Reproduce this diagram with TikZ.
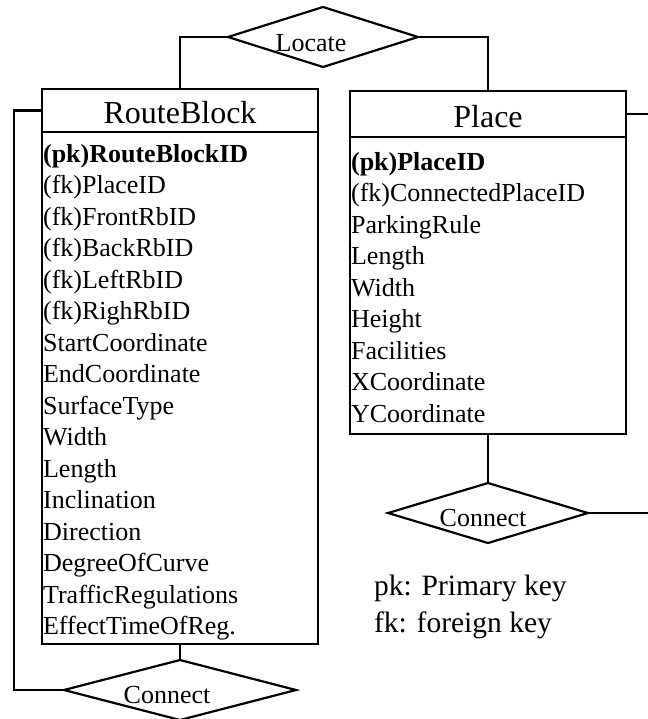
\documentclass[tikz,border=0pt]{standalone}
\usepackage{fontspec}
\setmainfont{Liberation Serif}
\usetikzlibrary{shapes.geometric}
\begin{document}
\begin{tikzpicture}[x=1bp,y=-1bp,
  line width=2.2bp,
  entbox/.style={draw, rectangle, inner sep=0pt, outer sep=0pt},
  hdr/.style={entbox, font=\fontsize{32bp}{38bp}\selectfont, text height=27bp, text depth=0pt},
  attr/.style={anchor=base west, inner sep=0pt, font=\fontsize{26bp}{31.5bp}\selectfont},
  key/.style={attr, font=\fontsize{26bp}{31.5bp}\selectfont\bfseries},
  rel/.style={draw, diamond, inner sep=0pt, outer sep=0pt},
  rellabel/.style={anchor=base, inner sep=0pt, font=\fontsize{26bp}{31.5bp}\selectfont},
  legend/.style={anchor=base west, inner sep=0pt, font=\fontsize{29.5bp}{37bp}\selectfont}]

\useasboundingbox (0,0) rectangle (648,719);

% RouteBlock entity
\node[hdr, minimum width=276bp, minimum height=43bp] (rbhead) at (180,110.5) {RouteBlock};
\node[entbox, minimum width=276bp, minimum height=512bp] (rbbody) at (180,388) {};
\node[key] (rb1) at (42,162) {(pk)RouteBlockID};
\foreach \t [count=\i from 2] in {{(fk)PlaceID},{(fk)FrontRbID},{(fk)BackRbID},{(fk)LeftRbID},{(fk)RighRbID},StartCoordinate,EndCoordinate,SurfaceType,Width,Length,Inclination,Direction,DegreeOfCurve,TrafficRegulations,{EffectTimeOfReg.}}
  \node[attr] (rb\i) at (42,{162+31.5*(\i-1)}) {\t};

% Place entity
\node[hdr, minimum width=276bp, minimum height=46bp] (plhead) at (488,114) {Place};
\node[entbox, minimum width=276bp, minimum height=297bp] (plbody) at (488,285.5) {};
\node[key] (pl1) at (350,170) {(pk)PlaceID};
\foreach \t [count=\i from 2] in {{(fk)ConnectedPlaceID},ParkingRule,Length,Width,Height,Facilities,XCoordinate,YCoordinate}
  \node[attr] (pl\i) at (350,{170+31.5*(\i-1)}) {\t};

% Relationships
\node[rel, minimum width=190bp, minimum height=60bp] (locate) at (323,37) {};
\node[rellabel] (locatetext) at (311,52) {Locate};
\node[rel, minimum width=200bp, minimum height=60bp] (plconn) at (488,513) {};
\node[rellabel] (plconntext) at (483,526) {Connect};
\node[rel, minimum width=232bp, minimum height=60bp] (rbconn) at (180,690) {};
\node[rellabel] (rbconntext) at (167,703) {Connect};

% Connectors
\coordinate (lloop) at (14,690);
\coordinate (rtop) at (648,114);
\coordinate (rbot) at (648,513);
\draw (locate.west) -| (rbhead.north);
\draw (locate.east) -| (plhead.north);
\draw (rbhead.west) -| (lloop) -- (rbconn.west);
\draw (rbbody.south) -- (rbconn.north);
\draw (plbody.south) -- (plconn.north);
\draw (plhead.east) -- (rtop);
\draw (plconn.east) -- (rbot);

% Legend
\node[legend] (pk) at (373,595) {pk: Primary key};
\node[legend] (fk) at (373,632) {fk: foreign key};
\end{tikzpicture}
\end{document}
